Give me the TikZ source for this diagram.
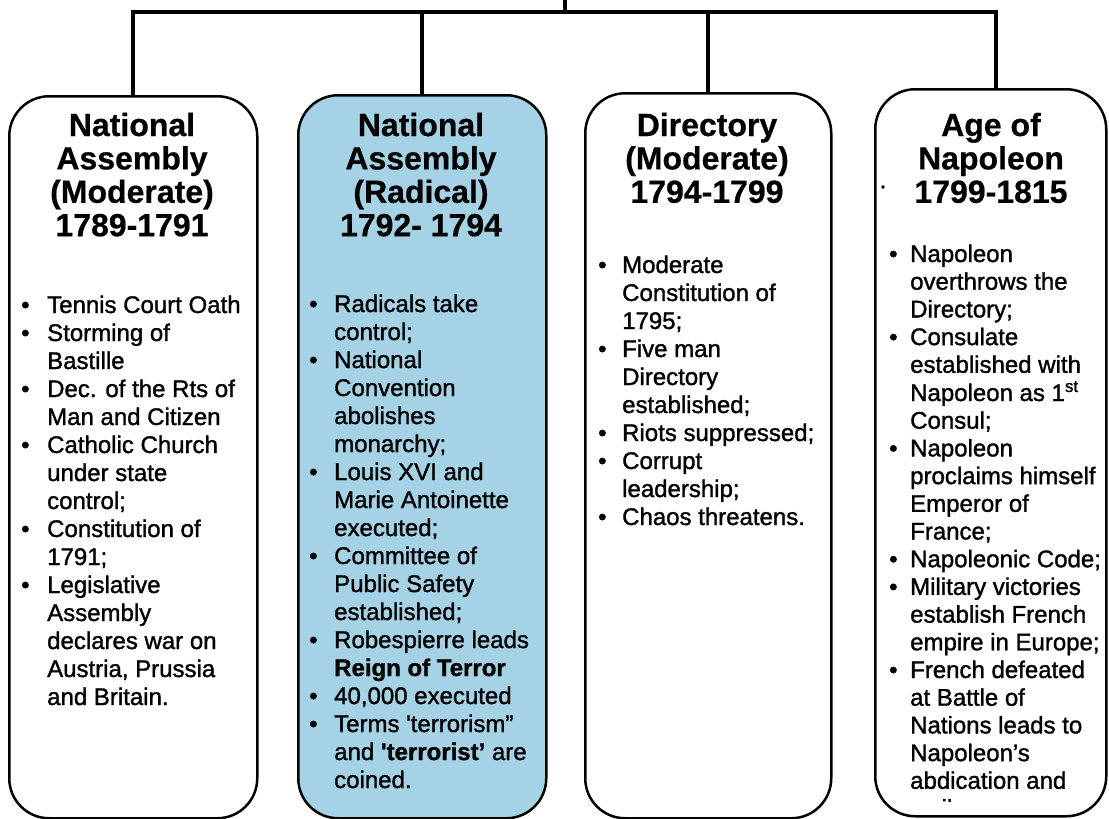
\documentclass[tikz,border=0pt]{standalone}
\usepackage{fontspec}
\setmainfont{Liberation Sans}[Ligatures=TeXOff]
\newfontfamily\headfont{Liberation Sans}[Ligatures=TeXOff,FakeBold=0.6]
\newfontfamily\bodyfont{Liberation Sans}[Ligatures=TeXOff,FakeBold=1.3]
\definecolor{radblue}{RGB}{166,210,230}
\newlength\bulw
\newcommand\bul{\makebox[\bulw][l]{\textbullet}}
\newcommand\ind{\hspace*{\bulw}}
\tikzset{
  conn/.style={line width=4pt, draw=black},
  periodbox/.style={draw=black, line width=2.5pt, rounded corners=40pt, inner sep=0pt, anchor=north west, minimum width=#1},
  head/.style={anchor=base, inner sep=0pt, font=\headfont\bfseries\fontsize{32}{33.4}\selectfont},
  body/.style={anchor=base west, inner sep=0pt, font=\bodyfont\fontsize{24}{28}\selectfont},
}
\begin{document}
\begin{tikzpicture}[x=1pt,y=-1pt]
\useasboundingbox (0,0) rectangle (1109,819);
\fill[white] (0,0) rectangle (1109,819);
% boxes
\node[periodbox=248pt, minimum height=722pt] (b1) at (8,95) {};
\node[periodbox=248pt, minimum height=723pt, fill=radblue] (b2) at (297,94) {};
\node[periodbox=246pt, minimum height=725pt] (b3) at (584,92) {};
\node[periodbox=231pt, minimum height=727pt] (b4) at (874,88) {};
% connectors
\coordinate (bar) at (0,12);
\coordinate (top) at (565,0);
\draw[conn] (top) -- (top |- bar);
\draw[conn, line cap=rect] (b1.north |- bar) -- ([xshift=5pt]b4.north |- bar);
\draw[conn] (b1.north) -- (b1.north |- bar);
\draw[conn] (b2.north) -- (b2.north |- bar);
\draw[conn] (b3.north) -- (b3.north |- bar);
\draw[conn] ([xshift=5pt]b4.north) -- ([xshift=5pt]b4.north |- bar);
% headings
\node[head] (h1) at (132,136) {\begin{tabular}[t]{@{}c@{}}National\\Assembly\\(Moderate)\\1789-1791\end{tabular}};
\node[head] (h2) at (421,136) {\begin{tabular}[t]{@{}c@{}}National\\Assembly\\(Radical)\\1792- 1794\end{tabular}};
\node[head] (h3) at (707,136) {\begin{tabular}[t]{@{}c@{}}Directory\\(Moderate)\\1794-1799\end{tabular}};
\node[head] (h4) at (991,136) {\begin{tabular}[t]{@{}c@{}}Age of\\Napoleon\\1799-1815\end{tabular}};
\node[inner sep=0pt, font=\bodyfont\fontsize{24}{28}\selectfont] (dot) at (883,187) {.};
% bodies
\node[body] (t1) at (21,313) {\setlength\bulw{26pt}\begin{tabular}[t]{@{}l@{}}
\bul Tennis Court Oath\\
\bul Storming of\\
\ind Bastille\\
\bul Dec. of the Rts of\\
\ind Man and Citizen\\
\bul Catholic Church\\
\ind under state\\
\ind control;\\
\bul Constitution of\\
\ind 1791;\\
\bul Legislative\\
\ind Assembly\\
\ind declares war on\\
\ind Austria, Prussia\\
\ind and Britain.
\end{tabular}};
\node[body] (t2) at (309,312) {\setlength\bulw{25pt}\begin{tabular}[t]{@{}l@{}}
\bul Radicals take\\
\ind control;\\
\bul National\\
\ind Convention\\
\ind abolishes\\
\ind monarchy;\\
\bul Louis XVI and\\
\ind Marie Antoinette\\
\ind executed;\\
\bul Committee of\\
\ind Public Safety\\
\ind established;\\
\bul Robespierre leads\\
\ind \textbf{Reign of Terror}\\
\bul 40,000 executed\\
\bul Terms 'terrorism”\\
\ind and \textbf{'terrorist’} are\\
\ind coined.
\end{tabular}};
\node[body] (t3) at (598,273) {\setlength\bulw{24pt}\begin{tabular}[t]{@{}l@{}}
\bul Moderate\\
\ind Constitution of\\
\ind 1795;\\
\bul Five man\\
\ind Directory\\
\ind established;\\
\bul Riots suppressed;\\
\bul Corrupt\\
\ind leadership;\\
\bul Chaos threatens.
\end{tabular}};
\begin{scope}
\clip (860,60) rectangle (1109,801);
\node[body, font=\bodyfont\fontsize{24}{27.7}\selectfont] (t4) at (889,262) {\setlength\bulw{21pt}\begin{tabular}[t]{@{}l@{}}
\bul Napoleon\\
\ind overthrows the\\
\ind Directory;\\
\bul Consulate\\
\ind established with\\
\ind Napoleon as 1\textsuperscript{st}\\
\ind Consul;\\
\bul Napoleon\\
\ind proclaims himself\\
\ind Emperor of\\
\ind France;\\
\bul Napoleonic Code;\\
\bul Military victories\\
\ind establish French\\
\ind empire in Europe;\\
\bul French defeated\\
\ind at Battle of\\
\ind Nations leads to\\
\ind Napoleon’s\\
\ind abdication and\\
\ind \hspace*{6pt}exile.
\end{tabular}};
\end{scope}
\end{tikzpicture}
\end{document}
